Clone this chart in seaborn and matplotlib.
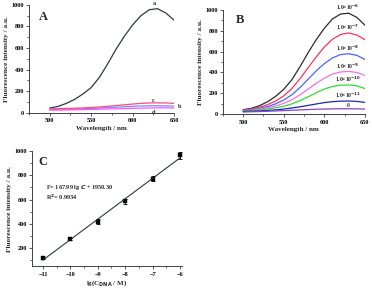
import numpy as np
import pandas as pd
import matplotlib
matplotlib.use('Agg')
import matplotlib.pyplot as plt
from matplotlib.ticker import MultipleLocator
import seaborn as sns

# 数据
wavelength = [500, 510, 520, 530, 540, 550, 560, 570, 580, 590, 600, 610, 620, 630, 640, 650]

# 面板 A
a_curve = [45, 60, 88, 125, 175, 235, 330, 455, 590, 710, 815, 900, 955, 965, 925, 858]
b_curve = [32, 33, 34, 36, 38, 41, 45, 49, 53, 57, 61, 64, 66, 66, 65, 63]
c_curve = [38, 39, 41, 43, 46, 50, 55, 61, 68, 75, 82, 88, 92, 93, 92, 88]
d_curve = [25, 26, 27, 28, 30, 32, 34, 36, 38, 40, 42, 44, 46, 47, 47, 46]
a_labels = ['a', 'b', 'c', 'd']

# 面板 B
conc_labels = ['1.0×10$^{-6}$', '1.0×10$^{-7}$', '1.0×10$^{-8}$', '1.0×10$^{-9}$',
               '1.0×10$^{-10}$', '1.0×10$^{-11}$', '0']
b_series = [
    [42, 55, 80, 118, 170, 238, 330, 455, 590, 715, 825, 915, 962, 970, 930, 855],
    [38, 48, 65, 90, 125, 175, 245, 340, 445, 550, 645, 720, 765, 780, 760, 715],
    [35, 42, 55, 72, 98, 135, 185, 255, 335, 415, 485, 540, 572, 580, 565, 525],
    [32, 38, 48, 60, 78, 102, 137, 185, 240, 295, 345, 385, 405, 410, 400, 372],
    [30, 34, 40, 48, 60, 75, 98, 128, 165, 205, 240, 265, 278, 280, 272, 245],
    [25, 27, 30, 34, 40, 48, 58, 70, 83, 97, 110, 119, 124, 125, 122, 112],
    [20, 22, 24, 27, 30, 33, 37, 40, 43, 46, 48, 50, 51, 51, 50, 48],
]
b_colors = ['#2b2b2b', '#ff3355', '#4a64ff', '#ee70ee', '#2fdc2f', '#2222b8', '#8844cc']

# 面板 C
lg_c = [-11, -10, -9, -8, -7, -6]
intensity = [120, 275, 418, 585, 772, 965]
intensity_err = [10, 10, 18, 22, 22, 28]
slope, intercept = 167.99, 1950.30

sns.set_style('ticks')
plt.rcParams['font.family'] = ['Liberation Serif', 'DejaVu Serif']
plt.rcParams['font.weight'] = 'bold'
plt.rcParams['axes.labelweight'] = 'bold'
plt.rcParams['xtick.labelsize'] = 4.5
plt.rcParams['ytick.labelsize'] = 4.5
plt.rcParams['axes.linewidth'] = 0.7
plt.rcParams['xtick.major.size'] = 2
plt.rcParams['ytick.major.size'] = 2
plt.rcParams['xtick.minor.size'] = 1.2
plt.rcParams['ytick.minor.size'] = 1.2
plt.rcParams['xtick.major.pad'] = 2
plt.rcParams['ytick.major.pad'] = 1.5
spine_color = '#3a4150'

fig = plt.figure(figsize=(3.72, 2.88), dpi=100)
axA = fig.add_axes([0.078, 0.608, 0.39, 0.375])
axB = fig.add_axes([0.599, 0.604, 0.382, 0.361])
axC = fig.add_axes([0.086, 0.075, 0.403, 0.401])

ylab = 'Fluorescence intensity / a.u.'


def style_axes(ax):
    sns.despine(ax=ax)
    for s in ['left', 'bottom']:
        ax.spines[s].set_color(spine_color)
    ax.tick_params(colors=spine_color, labelcolor='black', width=0.6)
    ax.tick_params(which='minor', width=0.5)


# A
for vals, col in zip([a_curve, b_curve, c_curve, d_curve],
                     ['#2f3a3a', '#6f8cff', '#ff4a78', '#ff55ff']):
    sns.lineplot(x=wavelength, y=vals, ax=axA, color=col, lw=0.9)
axA.set_xlim(475, 650)
axA.set_ylim(0, 1000)
axA.xaxis.set_major_locator(MultipleLocator(50))
axA.xaxis.set_minor_locator(MultipleLocator(25))
axA.yaxis.set_major_locator(MultipleLocator(200))
axA.yaxis.set_minor_locator(MultipleLocator(100))
axA.set_xlabel('Wavelength / nm', fontsize=5, labelpad=2)
axA.set_ylabel(ylab, fontsize=5.2, labelpad=2)
axA.text(0.1, 0.89, 'A', transform=axA.transAxes, fontsize=9, fontweight='bold',
         ha='center', va='center')
axA.text(626, 990, a_labels[0], fontsize=4.5, ha='center', va='bottom')
axA.text(657, 55, a_labels[1], fontsize=4.5, ha='center', va='center')
axA.text(625, 115, a_labels[2], fontsize=4.5, ha='center', va='center')
axA.text(625, 5, a_labels[3], fontsize=4.5, ha='center', va='center')
style_axes(axA)

# B
for vals, col, lab in zip(b_series, b_colors, conc_labels):
    sns.lineplot(x=wavelength, y=vals, ax=axB, color=col, lw=0.9)
    axB.text(629, max(vals) + 8, lab, fontsize=4, ha='center', va='bottom')
axB.set_xlim(475, 650)
axB.set_ylim(0, 1000)
axB.xaxis.set_major_locator(MultipleLocator(50))
axB.xaxis.set_minor_locator(MultipleLocator(25))
axB.yaxis.set_major_locator(MultipleLocator(200))
axB.yaxis.set_minor_locator(MultipleLocator(100))
axB.set_xlabel('Wavelength / nm', fontsize=5, labelpad=2)
axB.set_ylabel(ylab, fontsize=5.2, labelpad=2)
axB.text(0.12, 0.9, 'B', transform=axB.transAxes, fontsize=9, fontweight='bold',
         ha='center', va='center')
style_axes(axB)

# C
df = pd.DataFrame({'lg': lg_c, 'F': intensity, 'err': intensity_err})
fit_x = np.array([lg_c[0], lg_c[-1]])
sns.lineplot(x=fit_x, y=slope * fit_x + intercept, ax=axC, color='#2f3a3a', lw=0.8)
axC.errorbar(df['lg'], df['F'], yerr=df['err'], fmt='none', ecolor='black',
             elinewidth=0.6, capsize=1.2, capthick=0.6)
sns.scatterplot(data=df, x='lg', y='F', ax=axC, marker='s', s=5, color='black',
                edgecolor='black', linewidth=0.3)
axC.set_xlim(-11.4, -5.93)
axC.set_ylim(50, 1000)
axC.xaxis.set_major_locator(MultipleLocator(1))
axC.xaxis.set_minor_locator(MultipleLocator(0.5))
axC.yaxis.set_major_locator(MultipleLocator(200))
axC.yaxis.set_minor_locator(MultipleLocator(100))
axC.set_xlabel('lg(C$_{\\mathbf{DNA}}$ / M)', fontsize=5, labelpad=1)
axC.set_ylabel(ylab, fontsize=5.2, labelpad=2)
axC.text(0.07, 0.9, 'C', transform=axC.transAxes, fontsize=9, fontweight='bold',
         ha='center', va='center')
axC.text(-10.9, 700, 'F= 167.99 lg $\\mathbf{\\mathit{C}}$ + 1950.30', fontsize=4.5,
         ha='left', va='center')
axC.text(-10.9, 620, 'R$^2$= 0.9934', fontsize=4.5, ha='left', va='center')
style_axes(axC)

plt.savefig('out.png', dpi=100, facecolor='white')
plt.close()
